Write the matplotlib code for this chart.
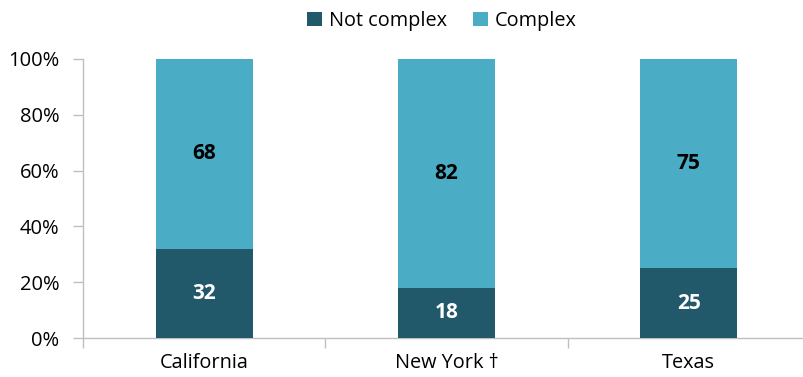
import matplotlib
matplotlib.use("Agg")
import matplotlib.pyplot as plt
from matplotlib.ticker import FixedLocator, NullFormatter

categories = ["California", "New York \u2020", "Texas"]
not_complex = [32, 18, 25]
complex_ = [68, 82, 75]
series_names = ["Not complex", "Complex"]
yticks = [0, 20, 40, 60, 80, 100]
ytick_labels = ["0%", "20%", "40%", "60%", "80%", "100%"]

dark = "#22596A"
light = "#4BACC6"
axis_gray = "#BFBFBF"

plt.rcParams['font.family'] = ['Open Sans', 'DejaVu Sans']

fig = plt.figure(figsize=(8.04, 3.77), dpi=100)
W, H = 804, 377
left, right, bottom, top = 83, 810, 338, 59
ax = fig.add_axes([left / W, 1 - bottom / H, (right - left) / W, (bottom - top) / H])

x = list(range(len(categories)))
b1 = ax.bar(x, not_complex, width=0.40, color=dark, label=series_names[0], zorder=3)
b2 = ax.bar(x, complex_, width=0.40, bottom=not_complex, color=light, label=series_names[1], zorder=3)

for i in x:
    ax.text(i, not_complex[i] / 2, str(not_complex[i]), ha='center', va='center',
            color='white', fontsize=15, fontweight='bold')
    ax.text(i, not_complex[i] + complex_[i] / 2, str(complex_[i]), ha='center', va='center',
            color='black', fontsize=15, fontweight='bold')

ax.set_xlim(-0.5, 2.5)
ax.set_ylim(0, 100)
ax.set_yticks(yticks)
ax.set_yticklabels(ytick_labels, fontsize=14.5)

ax.xaxis.set_major_locator(FixedLocator([-0.5, 0.5, 1.5, 2.5]))
ax.xaxis.set_major_formatter(NullFormatter())
ax.xaxis.set_minor_locator(FixedLocator(x))
ax.set_xticklabels(categories, minor=True, fontsize=14.3)
ax.tick_params(axis='x', which='minor', length=0, pad=11)
ax.tick_params(axis='x', which='major', length=7, color=axis_gray, width=1)
ax.tick_params(axis='y', length=7, color=axis_gray, width=1, pad=10)

for s in ['top', 'right']:
    ax.spines[s].set_visible(False)
for s in ['left', 'bottom']:
    ax.spines[s].set_color(axis_gray)
    ax.spines[s].set_linewidth(1)

fig.legend(handles=[b1, b2], labels=series_names, loc='center', bbox_to_anchor=(442 / W, 1 - 21 / H),
           ncol=2, frameon=False, fontsize=14.3, handlelength=0.75, handleheight=0.75,
           handletextpad=0.35, columnspacing=1.3)

fig.savefig("out.png", dpi=100)
